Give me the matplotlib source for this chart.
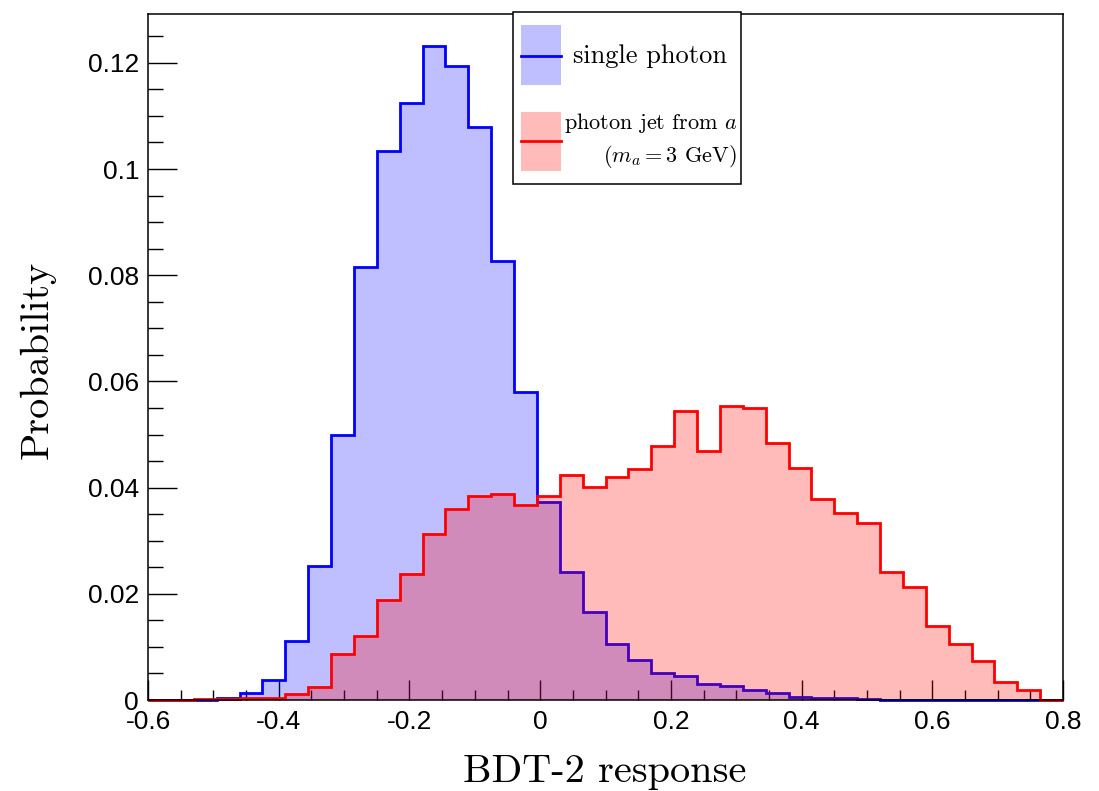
import numpy as np
import matplotlib
matplotlib.use("Agg")
import matplotlib.pyplot as plt
from matplotlib.ticker import MultipleLocator, FuncFormatter
from matplotlib.patches import Rectangle
from matplotlib.lines import Line2D

plt.rcParams["mathtext.fontset"] = "cm"

# 40 bins between -0.6 and 0.8
x_lo, x_hi, n_bins = -0.6, 0.8, 40
single_photon = [0, 0, 0.0001, 0.0003, 0.0013, 0.0038, 0.0111, 0.0253,
                 0.0500, 0.0816, 0.1034, 0.1124, 0.1232, 0.1194, 0.1080, 0.0827,
                 0.0580, 0.0373, 0.0241, 0.0165, 0.0106, 0.0076, 0.0050, 0.0045,
                 0.0031, 0.0027, 0.0019, 0.0014, 0.0006, 0.0004, 0.0003, 0.0002,
                 0.0001, 0.0001, 0, 0, 0, 0, 0, 0]
photon_jet = [0, 0, 0.0002, 0.0002, 0.0004, 0.0003, 0.0011, 0.0024,
              0.0087, 0.0121, 0.0188, 0.0237, 0.0313, 0.0359, 0.0385, 0.0388,
              0.0368, 0.0385, 0.0424, 0.0402, 0.0420, 0.0436, 0.0479, 0.0544,
              0.0469, 0.0554, 0.0550, 0.0485, 0.0437, 0.0379, 0.0353, 0.0334,
              0.0242, 0.0213, 0.0139, 0.0105, 0.0074, 0.0034, 0.0018, 0.0001]

edges = np.linspace(x_lo, x_hi, n_bins + 1)

fig = plt.figure(figsize=(10.99, 7.91), dpi=100)
ax = fig.add_axes([0.1347, 0.1150, 0.8326, 0.8673])

# fill then outline, red drawn over blue like ROOT does
ax.stairs(single_photon, edges, fill=True, color="blue", alpha=0.25, lw=0, zorder=1)
ax.stairs(single_photon, edges, color="blue", lw=2.0, zorder=1.1, clip_on=False)
ax.stairs(photon_jet, edges, fill=True, color="red", alpha=0.27, lw=0, zorder=1.2)
ax.stairs(photon_jet, edges, color="red", lw=2.0, zorder=1.3, clip_on=False)

ax.set_xlim(x_lo, x_hi)
ax.set_ylim(0, 0.1292)
ax.set_axisbelow(True)

fmt = FuncFormatter(lambda v, p: "%g" % round(v, 4))
ax.xaxis.set_major_locator(MultipleLocator(0.2))
ax.xaxis.set_minor_locator(MultipleLocator(0.05))
ax.yaxis.set_major_locator(MultipleLocator(0.02))
ax.yaxis.set_minor_locator(MultipleLocator(0.005))
ax.xaxis.set_major_formatter(fmt)
ax.yaxis.set_major_formatter(fmt)

ax.tick_params(axis="both", which="both", direction="in", color="black",
               width=1.0, top=False, right=False)
ax.tick_params(axis="x", which="major", length=14.5, pad=7)
ax.tick_params(axis="x", which="minor", length=7.2)
ax.tick_params(axis="y", which="major", length=21, pad=6.5)
ax.tick_params(axis="y", which="minor", length=10.5)
for lab in ax.get_xticklabels() + ax.get_yticklabels():
    lab.set_fontfamily("Liberation Sans")
    lab.set_fontsize(19)
for sp in ax.spines.values():
    sp.set_linewidth(1.1)

fig.text(605 / 1099, 1 - 772 / 791, "BDT-2 response", family="cmr10",
         fontsize=29, ha="center", va="center")
fig.text(37 / 1099, 1 - 360 / 791, "Probability", family="cmr10",
         fontsize=29, ha="center", va="center", rotation=90)

# legend box, drawn by hand (pixel positions from the reference)
W, H = 1099, 791
def fx(px):
    return px / W
def fy(py):
    return 1 - py / H

fig.patches.append(Rectangle((fx(513), fy(184)), fx(741) - fx(513), fy(12) - fy(184),
                             transform=fig.transFigure, facecolor="white",
                             edgecolor="black", lw=1.1, zorder=5))
fig.patches.append(Rectangle((fx(521), fy(85)), fx(561) - fx(521), fy(25) - fy(85),
                             transform=fig.transFigure, facecolor="blue", alpha=0.25,
                             lw=0, zorder=6))
fig.lines.append(Line2D([fx(521), fx(561)], [fy(55.5), fy(55.5)], transform=fig.transFigure,
                        color="blue", lw=2.0, zorder=7))
fig.patches.append(Rectangle((fx(521), fy(171)), fx(561) - fx(521), fy(112) - fy(171),
                             transform=fig.transFigure, facecolor="red", alpha=0.27,
                             lw=0, zorder=6))
fig.lines.append(Line2D([fx(521), fx(561)], [fy(141), fy(141)], transform=fig.transFigure,
                        color="red", lw=2.0, zorder=7))
fig.text(fx(650.5), fy(56), "single photon", family="cmr10", fontsize=19,
         ha="center", va="center", zorder=8)
fig.text(fx(738), fy(123), "photon jet from $a$", family="cmr10", fontsize=16,
         ha="right", va="center", zorder=8)
fig.text(fx(737), fy(157), "($m_a = 3$ GeV)", family="cmr10", fontsize=16,
         ha="right", va="center", zorder=8)

fig.savefig("out.png", dpi=100)
